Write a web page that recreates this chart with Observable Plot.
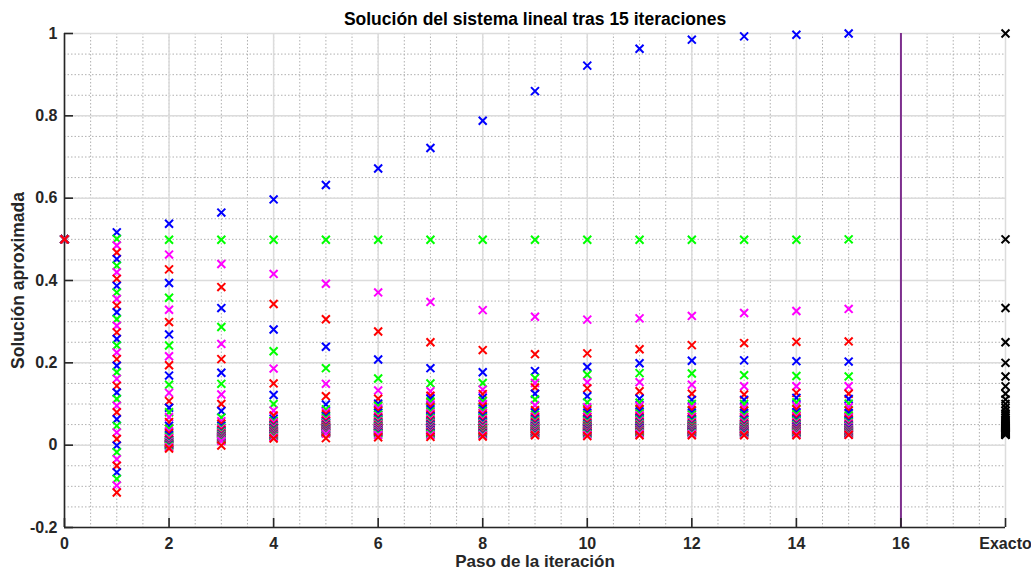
<!DOCTYPE html>
<html>
<head>
<meta charset="utf-8">
<script src="https://cdn.jsdelivr.net/npm/d3@7"></script>
<script src="https://cdn.jsdelivr.net/npm/@observablehq/plot@0.6"></script>
<style>
  html, body { margin: 0; padding: 0; background: #fff; }
  #chart svg { display: block; }
</style>
</head>
<body>
<div id="chart"></div>
<script>
// ---- Data ----
const componentColors = ["#0000ff", "#00ff00", "#ff00ff", "#ff0000"];
const exactoColor = "#000000";

const iter0 = Array(40).fill(0.5);
const iter1 = [0.517, 0.501, 0.485, 0.468, 0.452, 0.436, 0.420, 0.404, 0.387, 0.371, 0.355, 0.339, 0.323, 0.306, 0.290, 0.274, 0.258, 0.242, 0.225, 0.209, 0.193, 0.177, 0.161, 0.144, 0.128, 0.112, 0.096, 0.080, 0.063, 0.047, 0.031, 0.015, -0.001, -0.017, -0.034, -0.050, -0.066, -0.082, -0.098, -0.115];
const iter2 = [0.538, 0.499, 0.463, 0.427, 0.394, 0.358, 0.329, 0.299, 0.269, 0.242, 0.216, 0.194, 0.169, 0.147, 0.127, 0.107, 0.091, 0.080, 0.068, 0.056, 0.047, 0.040, 0.034, 0.029, 0.024, 0.020, 0.017, 0.014, 0.011, 0.009, 0.007, 0.005, 0.004, 0.003, 0.002, 0.001, 0.000, -0.002, -0.005, -0.008];
const iter3 = [0.565, 0.499, 0.440, 0.384, 0.333, 0.287, 0.246, 0.209, 0.176, 0.149, 0.123, 0.100, 0.083, 0.067, 0.058, 0.052, 0.047, 0.043, 0.040, 0.037, 0.034, 0.032, 0.030, 0.028, 0.026, 0.025, 0.023, 0.022, 0.021, 0.020, 0.019, 0.018, 0.017, 0.016, 0.015, 0.014, 0.013, 0.012, 0.010, -0.001];
const iter4 = [0.597, 0.499, 0.416, 0.343, 0.281, 0.228, 0.186, 0.150, 0.122, 0.100, 0.084, 0.072, 0.064, 0.059, 0.055, 0.051, 0.048, 0.046, 0.044, 0.042, 0.040, 0.038, 0.036, 0.035, 0.034, 0.033, 0.032, 0.031, 0.030, 0.029, 0.028, 0.027, 0.026, 0.025, 0.024, 0.023, 0.022, 0.021, 0.019, 0.016];
const iter5 = [0.632, 0.499, 0.392, 0.306, 0.239, 0.187, 0.149, 0.119, 0.099, 0.087, 0.080, 0.075, 0.070, 0.066, 0.062, 0.059, 0.056, 0.054, 0.052, 0.050, 0.048, 0.046, 0.045, 0.044, 0.042, 0.041, 0.040, 0.039, 0.038, 0.037, 0.036, 0.035, 0.034, 0.033, 0.032, 0.031, 0.030, 0.029, 0.028, 0.017];
const iter6 = [0.672, 0.499, 0.371, 0.276, 0.208, 0.162, 0.133, 0.113, 0.101, 0.095, 0.089, 0.083, 0.078, 0.074, 0.070, 0.067, 0.064, 0.061, 0.058, 0.056, 0.054, 0.052, 0.050, 0.048, 0.046, 0.045, 0.043, 0.042, 0.040, 0.039, 0.038, 0.036, 0.035, 0.034, 0.033, 0.031, 0.030, 0.028, 0.025, 0.019];
const iter7 = [0.722, 0.499, 0.348, 0.250, 0.187, 0.150, 0.131, 0.120, 0.113, 0.106, 0.099, 0.093, 0.087, 0.082, 0.077, 0.073, 0.069, 0.066, 0.063, 0.060, 0.057, 0.055, 0.053, 0.051, 0.049, 0.047, 0.045, 0.043, 0.042, 0.040, 0.039, 0.037, 0.036, 0.034, 0.033, 0.031, 0.029, 0.027, 0.024, 0.020];
const iter8 = [0.788, 0.499, 0.328, 0.231, 0.177, 0.151, 0.135, 0.124, 0.115, 0.107, 0.100, 0.094, 0.088, 0.083, 0.078, 0.074, 0.070, 0.066, 0.063, 0.060, 0.057, 0.054, 0.052, 0.050, 0.048, 0.046, 0.044, 0.042, 0.040, 0.039, 0.037, 0.036, 0.034, 0.033, 0.031, 0.030, 0.028, 0.026, 0.024, 0.021];
const iter9 = [0.860, 0.499, 0.312, 0.221, 0.180, 0.163, 0.151, 0.140, 0.125, 0.111, 0.097, 0.085, 0.079, 0.074, 0.070, 0.066, 0.063, 0.060, 0.057, 0.055, 0.052, 0.050, 0.048, 0.046, 0.045, 0.043, 0.042, 0.040, 0.039, 0.038, 0.036, 0.035, 0.034, 0.033, 0.032, 0.031, 0.029, 0.028, 0.026, 0.024];
const iter10 = [0.922, 0.499, 0.305, 0.223, 0.190, 0.171, 0.153, 0.138, 0.119, 0.104, 0.092, 0.085, 0.079, 0.074, 0.069, 0.065, 0.062, 0.059, 0.056, 0.054, 0.051, 0.049, 0.047, 0.046, 0.044, 0.043, 0.041, 0.040, 0.039, 0.037, 0.036, 0.035, 0.034, 0.033, 0.032, 0.031, 0.029, 0.027, 0.025, 0.022];
const iter11 = [0.963, 0.499, 0.308, 0.233, 0.199, 0.175, 0.153, 0.131, 0.113, 0.103, 0.095, 0.088, 0.082, 0.077, 0.072, 0.068, 0.065, 0.062, 0.059, 0.056, 0.054, 0.052, 0.050, 0.048, 0.046, 0.045, 0.043, 0.042, 0.041, 0.039, 0.038, 0.037, 0.036, 0.035, 0.034, 0.033, 0.031, 0.030, 0.028, 0.024];
const iter12 = [0.985, 0.499, 0.314, 0.243, 0.205, 0.174, 0.147, 0.125, 0.110, 0.100, 0.092, 0.085, 0.079, 0.074, 0.069, 0.065, 0.062, 0.059, 0.056, 0.053, 0.051, 0.049, 0.047, 0.046, 0.044, 0.043, 0.041, 0.040, 0.039, 0.038, 0.037, 0.036, 0.035, 0.034, 0.033, 0.032, 0.031, 0.029, 0.027, 0.024];
const iter13 = [0.993, 0.499, 0.321, 0.248, 0.206, 0.170, 0.143, 0.123, 0.110, 0.100, 0.091, 0.084, 0.078, 0.073, 0.068, 0.064, 0.061, 0.058, 0.055, 0.052, 0.050, 0.048, 0.046, 0.045, 0.043, 0.042, 0.040, 0.039, 0.038, 0.037, 0.036, 0.035, 0.034, 0.033, 0.032, 0.031, 0.030, 0.028, 0.026, 0.024];
const iter14 = [0.997, 0.499, 0.326, 0.251, 0.204, 0.168, 0.143, 0.127, 0.115, 0.104, 0.095, 0.087, 0.080, 0.075, 0.070, 0.066, 0.062, 0.059, 0.056, 0.053, 0.051, 0.049, 0.047, 0.045, 0.044, 0.042, 0.041, 0.040, 0.038, 0.037, 0.036, 0.035, 0.034, 0.033, 0.032, 0.031, 0.030, 0.029, 0.027, 0.024];
const iter15 = [1.000, 0.500, 0.331, 0.252, 0.203, 0.167, 0.143, 0.125, 0.112, 0.101, 0.092, 0.084, 0.078, 0.072, 0.067, 0.063, 0.059, 0.056, 0.053, 0.050, 0.048, 0.046, 0.044, 0.042, 0.041, 0.039, 0.038, 0.037, 0.036, 0.035, 0.034, 0.033, 0.032, 0.031, 0.030, 0.029, 0.028, 0.027, 0.026, 0.025];
const exacto = [1, 0.5, 0.3333, 0.25, 0.2, 0.1667, 0.1429, 0.125, 0.1111, 0.1, 0.0909, 0.0833, 0.0769, 0.0714, 0.0667, 0.0625, 0.0588, 0.0556, 0.0526, 0.05, 0.0476, 0.0455, 0.0435, 0.0417, 0.04, 0.0385, 0.037, 0.0357, 0.0345, 0.0333, 0.0323, 0.0313, 0.0303, 0.0294, 0.0286, 0.0278, 0.027, 0.0263, 0.0256, 0.025];

const iterations = [iter0, iter1, iter2, iter3, iter4, iter5, iter6, iter7, iter8, iter9, iter10, iter11, iter12, iter13, iter14, iter15];
const exactoPosition = 18;
const separatorPosition = 16;

const xTickValues = [0, 2, 4, 6, 8, 10, 12, 14, 16, 18];
const xTickLabels = ["0", "2", "4", "6", "8", "10", "12", "14", "16", "Exacto"];
const yTickValues = [-0.2, 0, 0.2, 0.4, 0.6, 0.8, 1];
const yTickLabels = ["-0.2", "0", "0.2", "0.4", "0.6", "0.8", "1"];

const titleText = "Solución del sistema lineal tras 15 iteraciones";
const xLabelText = "Paso de la iteración";
const yLabelText = "Solución aproximada";

// ---- Build table ----
const points = [];
iterations.forEach((vals, k) => {
  vals.forEach((v, i) => points.push({x: k, y: v, color: componentColors[i % 4]}));
});
exacto.forEach(v => points.push({x: exactoPosition, y: v, color: exactoColor}));

const xMinor = d3.range(0, 18.001, 0.5);
const yMinor = d3.range(-0.2, 1.0001, 0.05).map(v => +v.toFixed(2));

const font = "'Liberation Sans', Arial, Helvetica, sans-serif";
const textColor = "#262626";
const yPerPx = 1.2 / (571 - 33 - 44);
const xPerPx = 18 / (1031 - 64 - 26);

const chart = Plot.plot({
  width: 1031,
  height: 571,
  marginTop: 33,
  marginBottom: 44,
  marginLeft: 64,
  marginRight: 26,
  x: {domain: [0, 18], axis: null},
  y: {domain: [-0.2, 1], axis: null},
  color: {type: "identity"},
  style: {fontFamily: font, background: "#fff", overflow: "visible"},
  marks: [
    // minor grid (dotted)
    Plot.ruleX(xMinor, {stroke: "#b0b0b0", strokeWidth: 1, strokeDasharray: "1.5,2"}),
    Plot.ruleY(yMinor, {stroke: "#b0b0b0", strokeWidth: 1, strokeDasharray: "1.5,2"}),
    // major grid
    Plot.ruleX(xTickValues, {stroke: "#dcdcdc", strokeWidth: 1.5}),
    Plot.ruleY(yTickValues, {stroke: "#dcdcdc", strokeWidth: 1.5}),
    // separator
    Plot.ruleX([separatorPosition], {stroke: "#7e2f8e", strokeWidth: 2}),
    // axes
    Plot.ruleX([0], {stroke: textColor, strokeWidth: 1.6}),
    Plot.ruleY([-0.2], {stroke: textColor, strokeWidth: 1.6}),
    Plot.ruleX(xTickValues, {x: d => d, y1: -0.2, y2: -0.2 + 9 * yPerPx, stroke: textColor, strokeWidth: 1.6}),
    Plot.ruleY(yTickValues, {y: d => d, x1: 0, x2: 9 * xPerPx, stroke: textColor, strokeWidth: 1.6}),
    // points
    Plot.dot(points, {x: "x", y: "y", stroke: "color", symbol: "times", r: 3.7, strokeWidth: 2}),
    // tick labels
    Plot.text(xTickValues, {x: d => d, y: -0.2, text: (d, i) => xTickLabels[i], dy: 16, fontSize: 16, fontWeight: "bold", fill: textColor}),
    Plot.text(yTickValues, {x: 0, y: d => d, text: (d, i) => yTickLabels[i], textAnchor: "end", dx: -7, fontSize: 16, fontWeight: "bold", fill: textColor}),
    // title and axis labels
    Plot.text([titleText], {frameAnchor: "top", lineAnchor: "middle", textAnchor: "middle", dy: -14, fontSize: 17.5, fontWeight: "bold", fill: "#000"}),
    Plot.text([xLabelText], {frameAnchor: "bottom", lineAnchor: "middle", textAnchor: "middle", dy: 34.5, fontSize: 17, fontWeight: "bold", fill: textColor}),
    Plot.text([yLabelText], {frameAnchor: "left", lineAnchor: "middle", textAnchor: "middle", dx: -46, rotate: -90, fontSize: 17.5, fontWeight: "bold", fill: textColor})
  ]
});
document.getElementById("chart").appendChild(chart);
</script>
</body>
</html>
